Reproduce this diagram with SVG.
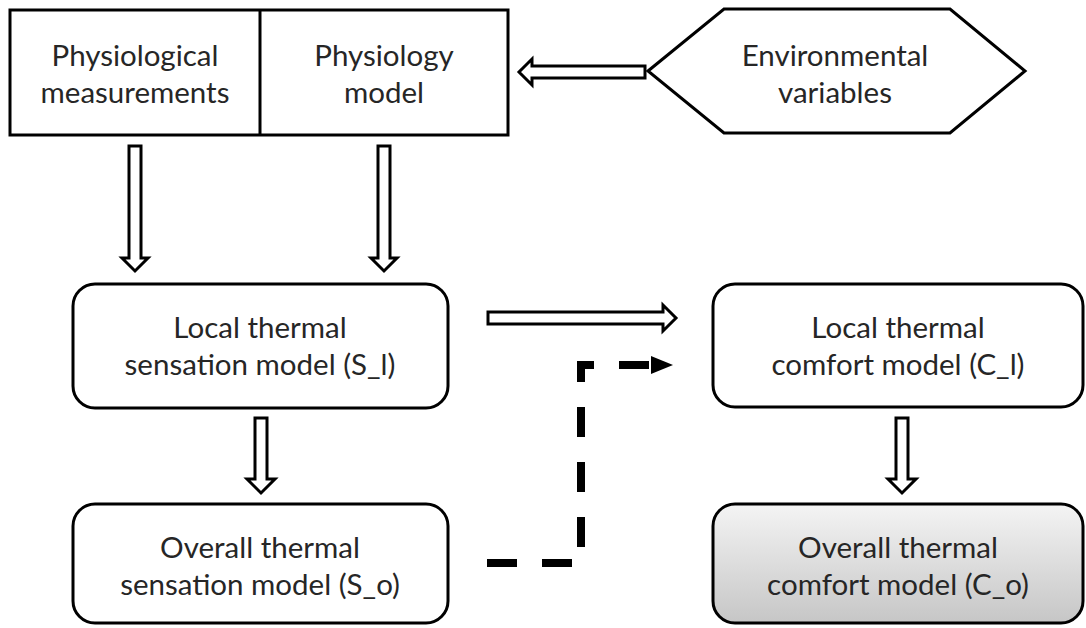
<svg xmlns="http://www.w3.org/2000/svg" width="1086" height="628" viewBox="0 0 1086 628">
<defs>
<linearGradient id="grey" x1="0" y1="0" x2="0" y2="1">
<stop offset="0" stop-color="#f4f4f4"/>
<stop offset="1" stop-color="#c6c6c6"/>
</linearGradient>
<marker id="tri" markerUnits="userSpaceOnUse" markerWidth="24" markerHeight="20" refX="0" refY="10" orient="auto">
<path d="M0,1 L22,10 L0,19 Z" fill="#000"/>
</marker>
<style>
.box{fill:#fff;stroke:#000;stroke-width:3}
.hol{fill:#fff;stroke:#000;stroke-width:3;stroke-linejoin:miter}
.t{font-family:Lato,"Liberation Sans",sans-serif;font-size:29.5px;fill:#262626;text-anchor:middle}
.dash{fill:none;stroke:#000;stroke-width:8;stroke-dasharray:30 25}
</style>
</defs>
<rect width="1086" height="628" fill="#fff"/>
<g id="physiology">
<rect class="box" x="10" y="10" width="498" height="125"/>
<line x1="260" y1="10" x2="260" y2="135" stroke="#000" stroke-width="3"/>
<text class="t" x="135" y="66">Physiological</text>
<text class="t" x="135" y="103">measurements</text>
<text class="t" x="384" y="66">Physiology</text>
<text class="t" x="384" y="103">model</text>
</g>
<g id="environment">
<polygon class="box" points="648,71 724,9 950,9 1025,71 950,133 724,133"/>
<text class="t" x="835" y="66">Environmental</text>
<text class="t" x="835" y="103">variables</text>
</g>
<g id="local-sensation">
<rect class="box" x="73" y="284" width="375" height="124" rx="22"/>
<text class="t" x="260" y="338">Local thermal</text>
<text class="t" x="260" y="375">sensation model (S_l)</text>
</g>
<g id="overall-sensation">
<rect class="box" x="73" y="504" width="375" height="119" rx="22"/>
<text class="t" x="260" y="558">Overall thermal</text>
<text class="t" x="260" y="595">sensation model (S_o)</text>
</g>
<g id="local-comfort">
<rect class="box" x="713" y="284" width="370" height="123" rx="22"/>
<text class="t" x="898" y="338">Local thermal</text>
<text class="t" x="898" y="375">comfort model (C_l)</text>
</g>
<g id="overall-comfort">
<rect class="box" x="713" y="504" width="370" height="119" rx="22" style="fill:url(#grey)"/>
<text class="t" x="898" y="558">Overall thermal</text>
<text class="t" x="898" y="595">comfort model (C_o)</text>
</g>
<g id="connectors">
<polygon class="hol" points="645,66 532,66 532,59 519,72 532,85 532,78 645,78"/>
<polygon class="hol" points="129,146 141,146 141,258 148,258 135,271 122,258 129,258"/>
<polygon class="hol" points="378,146 390,146 390,258 397,258 384,271 371,258 378,258"/>
<polygon class="hol" points="488,312 663,312 663,305 676,318 663,331 663,324 488,324"/>
<polygon class="hol" points="255,418 267,418 267,479 275,479 261,493 247,479 255,479"/>
<polygon class="hol" points="896,418 908,418 908,479 916,479 902,493 888,479 896,479"/>
<path class="dash" d="M487,563 H581 V365 H651" marker-end="url(#tri)"/>
</g>
</svg>
